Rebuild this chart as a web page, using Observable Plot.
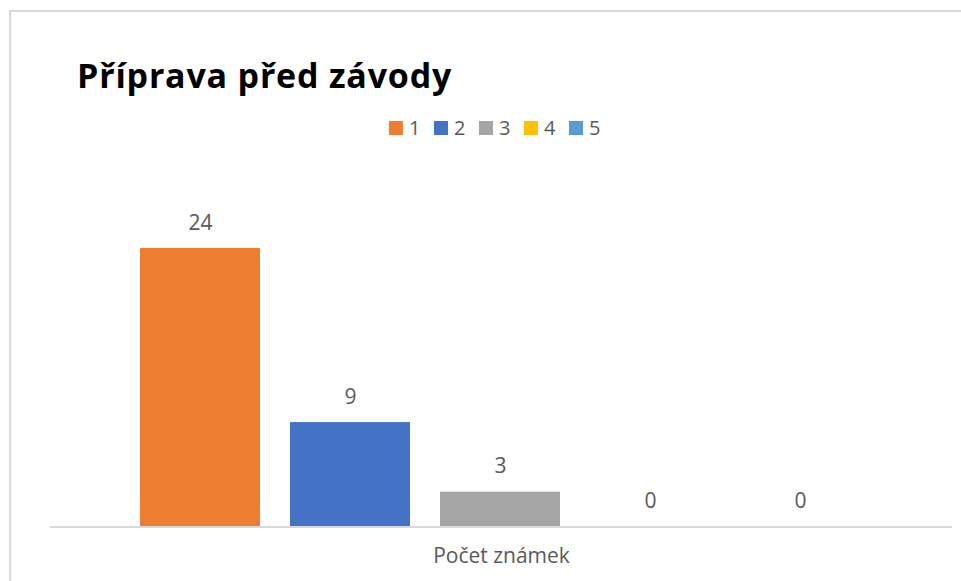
<!DOCTYPE html>
<html>
<head>
<meta charset="utf-8">
<script src="https://cdn.jsdelivr.net/npm/d3@7"></script>
<script src="https://cdn.jsdelivr.net/npm/@observablehq/plot@0.6"></script>
<style>
  body { margin: 0; background: #fff; }
  #wrap { position: relative; width: 961px; height: 581px; overflow: hidden; font-family: "Open Sans", sans-serif; }
  #border { position: absolute; left: 9px; top: 10px; width: 1000px; height: 1000px; border: 2px solid #d9d9d9; box-sizing: border-box; }
  #title { position: absolute; left: 77px; top: 52px; font-size: 34px; letter-spacing: 0.8px; font-weight: bold; color: #000; white-space: nowrap; line-height: normal; }
  #legend { position: absolute; left: 389px; top: 114px; display: flex; font-size: 20px; color: #595959; }
  #legend .item { display: flex; align-items: center; width: 45px; }
  #legend .sw { width: 14px; height: 14px; margin-right: 6px; }
  #xlabel { position: absolute; left: 0; width: 1003px; top: 541px; text-align: center; font-size: 21px; color: #595959; }
  #chart { position: absolute; left: 0; top: 0; }
</style>
</head>
<body>
<div id="wrap">
  <div id="border"></div>
  <div id="chart"></div>
  <div id="title"></div>
  <div id="legend"></div>
  <div id="xlabel"></div>
</div>
<script>
const title = "Příprava před závody";
const categoryLabel = "Počet známek";
const series = ["1", "2", "3", "4", "5"];
const values = [24, 9, 3, 0, 0];
const colors = ["#ED7D31", "#4472C4", "#A5A5A5", "#FFC000", "#5B9BD5"];

const data = series.map((s, i) => ({series: s, value: values[i]}));

document.getElementById("title").textContent = title;
document.getElementById("xlabel").textContent = categoryLabel;
const legend = document.getElementById("legend");
series.forEach((s, i) => {
  const it = document.createElement("div");
  it.className = "item";
  const sw = document.createElement("div");
  sw.className = "sw";
  sw.style.background = colors[i];
  const t = document.createElement("span");
  t.textContent = s;
  it.appendChild(sw); it.appendChild(t);
  legend.appendChild(it);
});

const chart = Plot.plot({
  width: 961,
  height: 581,
  marginLeft: 50,
  marginRight: 9,
  marginTop: 0,
  marginBottom: 0,
  style: {background: "transparent", fontFamily: "'Open Sans', sans-serif"},
  x: {domain: series, range: [125, 875], paddingInner: 0.2, paddingOuter: 0.1, axis: null},
  y: {domain: [0, 24], range: [526.5, 248], axis: null},
  color: {domain: series, range: colors},
  marks: [
    Plot.barY(data, {x: "series", y: "value", fill: "series"}),
    Plot.ruleY([0], {stroke: "#d9d9d9", strokeWidth: 2}),
    Plot.text(data, {x: "series", y: "value", text: d => String(d.value), lineAnchor: "bottom", dy: -19, fontSize: 21, fill: "#595959"})
  ]
});
document.getElementById("chart").appendChild(chart);
</script>
</body>
</html>
